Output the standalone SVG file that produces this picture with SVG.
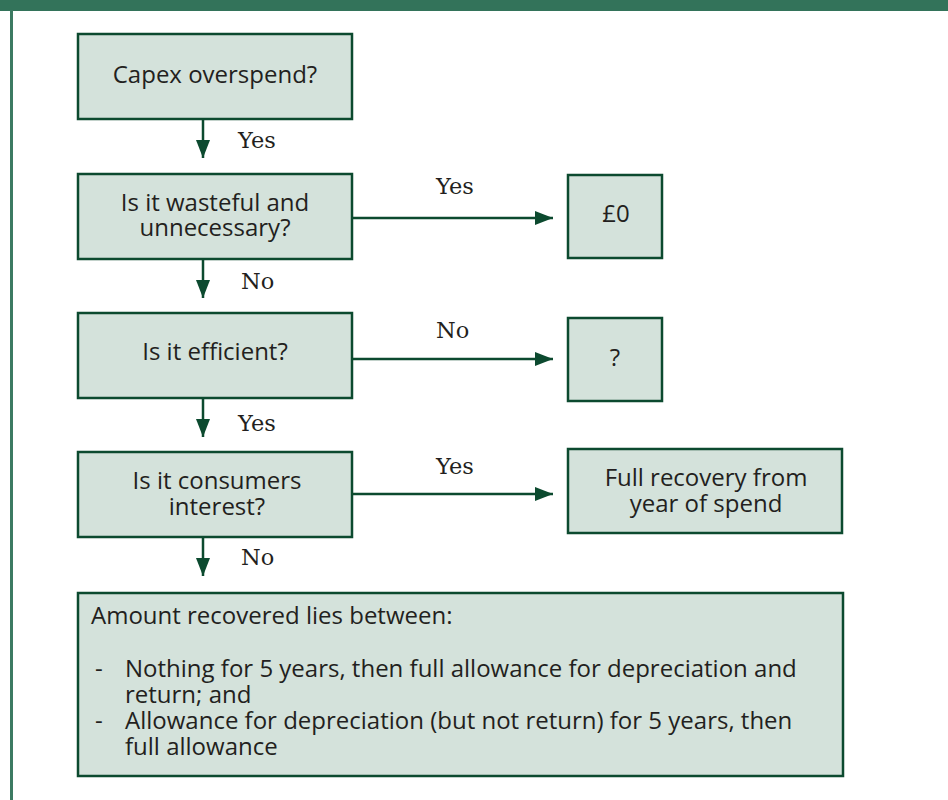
<svg xmlns="http://www.w3.org/2000/svg" width="948" height="800" viewBox="0 0 948 800">
<defs>
<style>
.box{fill:#D4E2DB;stroke:#0C4A2F;stroke-width:2.5}
.t{font-family:"Open Sans","Liberation Sans",sans-serif;font-size:24px;fill:#231F20}
.c{text-anchor:middle}
.lbl{font-family:"DejaVu Serif","Liberation Serif",serif;font-size:22.5px;fill:#231F20}
.conn{stroke:#0C4A2F;stroke-width:2.5;fill:none}
</style>
<marker id="ah" viewBox="0 0 18 14" refX="18" refY="7" markerWidth="18" markerHeight="14" markerUnits="userSpaceOnUse" orient="auto">
<path d="M0,0 L18,7 L0,14 Z" fill="#0C4A2F"/>
</marker>
</defs>
<rect x="0" y="0" width="948" height="11" fill="#33735A"/>
<rect x="10" y="10" width="3" height="790" fill="#3C7A62"/>

<g id="n1"><rect class="box" x="78" y="34" width="274" height="85"/><text class="t c" x="215" y="83">Capex overspend?</text></g>
<g id="n2"><rect class="box" x="78" y="174" width="274" height="85"/><text class="t c"><tspan x="215" y="211">Is it wasteful and</tspan><tspan x="215" y="236">unnecessary?</tspan></text></g>
<g id="n3"><rect class="box" x="78" y="313" width="274" height="85"/><text class="t c" x="215" y="360">Is it efficient?</text></g>
<g id="n4"><rect class="box" x="78" y="452" width="274" height="85"/><text class="t c"><tspan x="217" y="489">Is it consumers</tspan><tspan x="217" y="515">interest?</tspan></text></g>
<g id="n5"><rect class="box" x="568" y="175" width="94" height="83"/><text class="t c" x="616" y="222">£0</text></g>
<g id="n6"><rect class="box" x="568" y="318" width="94" height="83"/><text class="t c" x="615" y="366">?</text></g>
<g id="n7"><rect class="box" x="568" y="449" width="274" height="84"/><text class="t c"><tspan x="706" y="486">Full recovery from</tspan><tspan x="706" y="512">year of spend</tspan></text></g>
<g id="n8"><rect class="box" x="78" y="593" width="765" height="183"/>
<text class="t"><tspan x="91" y="624">Amount recovered lies between:</tspan><tspan x="95" y="677">-</tspan><tspan x="125" y="677">Nothing for 5 years, then full allowance for depreciation and</tspan><tspan x="125" y="703">return; and</tspan><tspan x="95" y="729">-</tspan><tspan x="125" y="729">Allowance for depreciation (but not return) for 5 years, then</tspan><tspan x="125" y="755">full allowance</tspan></text>
</g>

<g id="connectors">
<line class="conn" x1="203" y1="119" x2="203" y2="158" marker-end="url(#ah)"/>
<line class="conn" x1="203" y1="259" x2="203" y2="298" marker-end="url(#ah)"/>
<line class="conn" x1="203" y1="398" x2="203" y2="437" marker-end="url(#ah)"/>
<line class="conn" x1="203" y1="537" x2="203" y2="576" marker-end="url(#ah)"/>
<line class="conn" x1="352" y1="218" x2="553" y2="218" marker-end="url(#ah)"/>
<line class="conn" x1="352" y1="359" x2="553" y2="359" marker-end="url(#ah)"/>
<line class="conn" x1="352" y1="494" x2="553" y2="494" marker-end="url(#ah)"/>
<text class="lbl" x="238" y="148">Yes</text>
<text class="lbl" x="241" y="289">No</text>
<text class="lbl" x="238" y="431">Yes</text>
<text class="lbl" x="241" y="565">No</text>
<text class="lbl" x="436" y="194">Yes</text>
<text class="lbl" x="436" y="338">No</text>
<text class="lbl" x="436" y="474">Yes</text>
</g>
</svg>
